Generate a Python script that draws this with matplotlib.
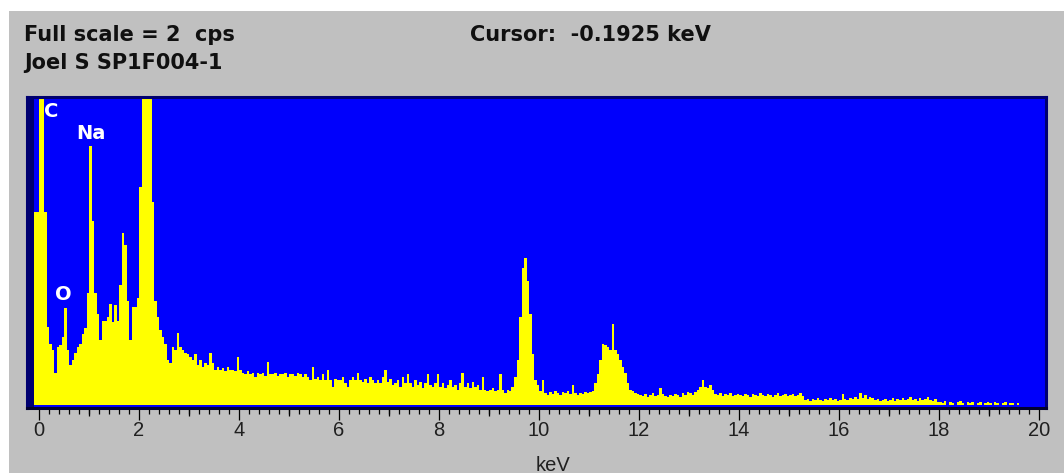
import numpy as np
import matplotlib
matplotlib.use("Agg")
import matplotlib.pyplot as plt
from matplotlib.patches import Rectangle

W, H = 1064, 473

# channel width 0.05 keV, first channel starts at -0.10 keV
chan_width = 0.05
chan_start = -0.10

# counts per channel in cps (full scale = 2 cps), one row per keV
counts = [
    1.26, 1.26,
    # 0 keV
    3.0, 3.0, 1.26, 0.51, 0.40, 0.36, 0.21, 0.38, 0.39, 0.44, 0.63, 0.36, 0.26, 0.29, 0.34, 0.38, 0.40, 0.46, 0.50, 0.73,
    # 1 keV
    1.69, 1.20, 0.73, 0.59, 0.42, 0.55, 0.55, 0.57, 0.66, 0.54, 0.65, 0.55, 0.78, 1.12, 1.04, 0.68, 0.42, 0.64, 0.64, 0.70,
    # 2 keV
    1.42, 3.0, 3.0, 3.0, 3.0, 1.32, 0.68, 0.57, 0.49, 0.44, 0.40, 0.29, 0.27, 0.38, 0.36, 0.47, 0.38, 0.36, 0.34, 0.33,
    # 3 keV
    0.31, 0.29, 0.33, 0.26, 0.29, 0.25, 0.27, 0.26, 0.34, 0.27, 0.23, 0.25, 0.23, 0.24, 0.22, 0.25, 0.23, 0.23, 0.22, 0.31,
    # 4 keV
    0.23, 0.21, 0.20, 0.22, 0.20, 0.21, 0.18, 0.21, 0.20, 0.21, 0.19, 0.28, 0.20, 0.20, 0.21, 0.19, 0.20, 0.20, 0.21, 0.18,
    # 5 keV
    0.20, 0.20, 0.19, 0.21, 0.20, 0.18, 0.20, 0.18, 0.16, 0.25, 0.17, 0.18, 0.16, 0.20, 0.16, 0.23, 0.16, 0.12, 0.17, 0.16,
    # 6 keV
    0.16, 0.18, 0.14, 0.12, 0.16, 0.18, 0.16, 0.21, 0.16, 0.15, 0.17, 0.14, 0.18, 0.16, 0.14, 0.16, 0.14, 0.18, 0.23, 0.15,
    # 7 keV
    0.17, 0.13, 0.14, 0.16, 0.12, 0.18, 0.14, 0.20, 0.14, 0.12, 0.16, 0.13, 0.15, 0.11, 0.14, 0.20, 0.13, 0.12, 0.14, 0.20,
    # 8 keV
    0.12, 0.14, 0.11, 0.13, 0.16, 0.12, 0.13, 0.10, 0.14, 0.21, 0.12, 0.14, 0.11, 0.15, 0.12, 0.13, 0.10, 0.18, 0.10, 0.09,
    # 9 keV
    0.10, 0.11, 0.09, 0.10, 0.20, 0.10, 0.08, 0.10, 0.09, 0.12, 0.18, 0.29, 0.57, 0.89, 0.96, 0.81, 0.59, 0.33, 0.16, 0.13,
    # 10 keV
    0.09, 0.16, 0.08, 0.065, 0.085, 0.07, 0.09, 0.08, 0.065, 0.085, 0.08, 0.09, 0.07, 0.13, 0.08, 0.065, 0.08, 0.07, 0.085, 0.08,
    # 11 keV
    0.085, 0.09, 0.14, 0.20, 0.29, 0.40, 0.39, 0.38, 0.36, 0.53, 0.36, 0.33, 0.29, 0.25, 0.21, 0.14, 0.10, 0.09, 0.08, 0.07,
    # 12 keV
    0.065, 0.06, 0.07, 0.05, 0.065, 0.08, 0.06, 0.065, 0.11, 0.07, 0.06, 0.05, 0.065, 0.06, 0.07, 0.065, 0.05, 0.08, 0.065, 0.085,
    # 13 keV
    0.08, 0.065, 0.085, 0.10, 0.12, 0.16, 0.12, 0.11, 0.13, 0.10, 0.07, 0.065, 0.08, 0.06, 0.07, 0.065, 0.08, 0.06, 0.065, 0.07,
    # 14 keV
    0.065, 0.06, 0.07, 0.065, 0.05, 0.07, 0.065, 0.06, 0.08, 0.065, 0.06, 0.07, 0.065, 0.05, 0.065, 0.08, 0.06, 0.065, 0.07, 0.06,
    # 15 keV
    0.065, 0.07, 0.06, 0.065, 0.08, 0.06, 0.033, 0.04, 0.026, 0.04, 0.033, 0.045, 0.033, 0.026, 0.04, 0.033, 0.045, 0.033, 0.04, 0.026,
    # 16 keV
    0.033, 0.07, 0.04, 0.033, 0.045, 0.04, 0.05, 0.04, 0.08, 0.045, 0.065, 0.04, 0.05, 0.045, 0.033, 0.04, 0.026, 0.033, 0.04, 0.026,
    # 17 keV
    0.033, 0.045, 0.026, 0.04, 0.033, 0.045, 0.033, 0.04, 0.05, 0.033, 0.04, 0.026, 0.045, 0.033, 0.04, 0.05, 0.033, 0.026, 0.04, 0.02,
    # 18 keV
    0.02, 0.013, 0.026, 0.0, 0.02, 0.013, 0.0, 0.02, 0.026, 0.013, 0.0, 0.02, 0.013, 0.02, 0.0, 0.013, 0.02, 0.0, 0.013, 0.02,
    # 19 keV
    0.013, 0.0, 0.02, 0.013, 0.0, 0.013, 0.02, 0.0, 0.013, 0.013, 0.0, 0.013, 0.0, 0.0, 0.0, 0.0, 0.0, 0.0, 0.0, 0.0,
]

# element labels: (name, keV, cps)
peak_labels = ["C", "Na", "O"]
peak_x = [0.24, 1.04, 0.49]
peak_y = [1.91, 1.77, 0.72]

major_ticks = [0, 2, 4, 6, 8, 10, 12, 14, 16, 18, 20]
mid_ticks = [1, 3, 5, 7, 9, 11, 13, 15, 17, 19]

full_scale = 2
title_left = "Full scale = 2  cps"
title_cursor = "Cursor:  -0.1925 keV"
sample_name = "Joel S SP1F004-1"

gray = "#c0c0c0"
blue = "#0000fc"
navy = "#000070"
yellow = "#ffff00"

edges = np.round(chan_start + chan_width * np.arange(len(counts) + 1), 3)


def fx(px):
    return px / W


def fy(py):
    return 1 - py / H


fig = plt.figure(figsize=(W / 100, H / 100), dpi=100, facecolor=gray)
fig.patches.append(Rectangle((0, fy(11)), 1, 11 / H, transform=fig.transFigure,
                             facecolor="white", edgecolor="none", zorder=-1))
fig.patches.append(Rectangle((0, 0), fx(9), 1, transform=fig.transFigure,
                             facecolor="white", edgecolor="none", zorder=-1))

ax = fig.add_axes([fx(27), fy(408), fx(1046 - 27), (408 - 97) / H])
ax.set_facecolor(blue)
ax.set_xlim(-0.24, 20.14)
ax.set_ylim(-0.02, 2.0065)

ax.axvspan(-0.24, chan_start, color=navy, lw=0)
ax.stairs(counts, edges, baseline=0, fill=True, color=yellow, lw=0)

for name, x, y in zip(peak_labels, peak_x, peak_y):
    ax.text(x, y, name, color="white", fontsize=14, fontweight="bold",
            ha="center", va="center", family="DejaVu Sans")

for s in ax.spines.values():
    s.set_color(navy)
    s.set_linewidth(2.2)
ax.spines["bottom"].set_color("#000030")

ax.set_yticks([])
ax.set_xticks(major_ticks)
ax.set_xticklabels([str(t) for t in major_ticks])
ax.set_xticks(np.round(np.arange(0, 20.01, 0.2), 1), minor=True)
ax.tick_params(axis="x", which="major", direction="out", length=8.5, width=0.9,
               color="black", pad=1, labelsize=14.5, labelcolor="#202020")
ax.tick_params(axis="x", which="minor", direction="out", length=4, width=0.9,
               color="black")
for lab in ax.get_xticklabels():
    lab.set_family(["Liberation Sans Narrow", "Liberation Sans"])

sec = ax.secondary_xaxis("bottom")
sec.set_xticks(mid_ticks)
sec.tick_params(length=6, width=0.9, color="black", labelbottom=False)
sec.spines["bottom"].set_visible(False)

fig.text(fx(553), fy(465), "keV", ha="center", va="center", fontsize=14.5,
         color="#202020", family=["Liberation Sans Narrow", "Liberation Sans"])

fig.text(fx(24), fy(35), title_left, ha="left", va="center", fontsize=15,
         fontweight="bold", color="#101010", family="DejaVu Sans")
fig.text(fx(470), fy(35), title_cursor, ha="left", va="center", fontsize=15,
         fontweight="bold", color="#101010", family="DejaVu Sans")
fig.text(fx(24), fy(63), sample_name, ha="left", va="center", fontsize=15,
         fontweight="bold", color="#101010", family="DejaVu Sans")

fig.savefig("out.png", dpi=100, facecolor=gray)
